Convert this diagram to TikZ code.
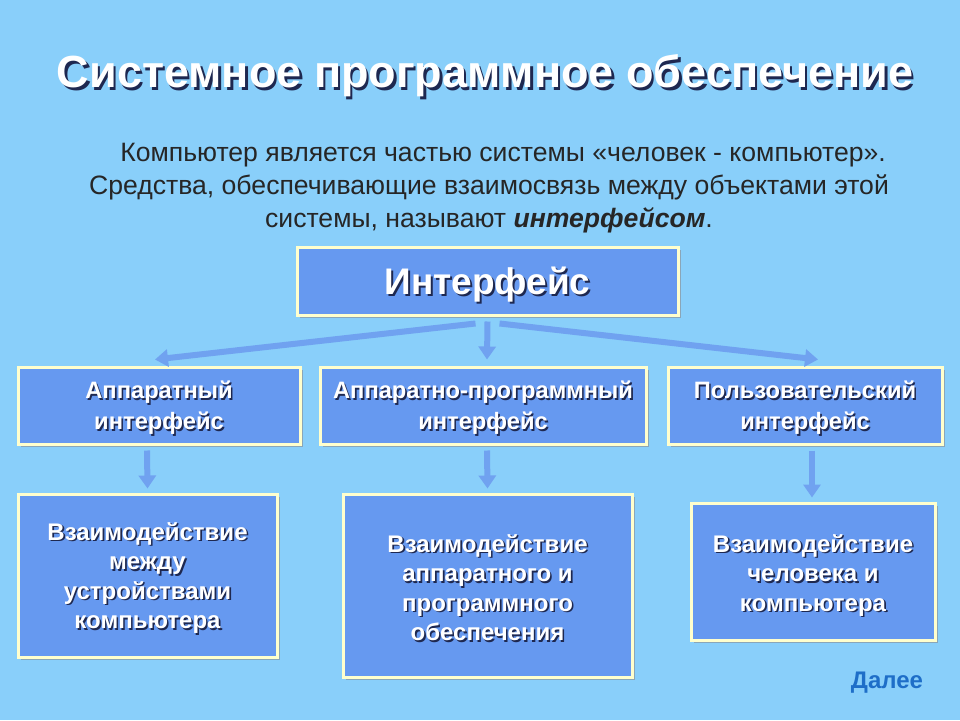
\documentclass[tikz,border=0pt]{standalone}
\usepackage{fontspec}
\setmainfont{Liberation Sans}
\usetikzlibrary{arrows.meta,shadows}
\definecolor{bg}{RGB}{137,207,250}
\definecolor{boxblue}{RGB}{102,153,240}
\definecolor{edge}{RGB}{255,255,205}
\definecolor{arrowblue}{RGB}{112,162,240}
\definecolor{tshadow}{RGB}{30,40,80}
\definecolor{daleecol}{RGB}{30,110,200}
\newcommand\shtxt[2][1.6pt]{\makebox[0pt][l]{\hspace*{#1}\raisebox{-#1}{\color{tshadow}#2}}#2}
\newcommand\lowered[2]{\raisebox{#1}[\height][\depth]{#2}}
\newcommand\shlines[2][-3pt]{\lowered{#1}{\shtxt{\begin{tabular}{@{}c@{}}#2\end{tabular}}}}
\tikzset{
  panel/.style={rectangle, fill=boxblue, draw=edge, line width=3pt, inner sep=0pt,
     drop shadow={shadow xshift=2.5pt, shadow yshift=-2.5pt, fill=black!45, opacity=0.6},
     text=white, font=\bfseries\fontsize{23.7}{31}\selectfont, align=center},
  lower/.style={panel, font=\bfseries\fontsize{24}{29.5}\selectfont},
  flow/.style={draw=arrowblue, line width=6pt, -{Triangle[width=17pt,length=13pt]}, arrowblue}
}
\begin{document}
\begin{tikzpicture}[x=1pt,y=-1pt]
\fill[bg] (0,0) rectangle (960,720);
\useasboundingbox (0,0) rectangle (960,720);

\node[text=white, font=\bfseries\fontsize{45}{50}\selectfont] (title) at (485,77)
  {\shtxt[2.5pt]{Системное программное обеспечение}};

\node[text=black!85, font=\fontsize{26.6}{33}\selectfont, align=center] (intro) at (489,188)
  {\hspace*{28pt}Компьютер является частью системы «человек - компьютер».\\
   Средства, обеспечивающие взаимосвязь между объектами этой\\
   системы, называют \textbf{\textit{интерфейсом}}.};

\node[panel, minimum width=381pt, minimum height=68pt, font=\bfseries\fontsize{37}{40}\selectfont] (iface) at (487.5,281)
  {\lowered{-5pt}{\shtxt[2pt]{Интерфейс}}};

\node[panel, minimum width=282pt, minimum height=77pt] (b1) at (159,405.5)
  {\shlines{Аппаратный\\интерфейс}};
\node[panel, minimum width=326pt, minimum height=77pt] (b2) at (483,405.5)
  {\shlines{Аппаратно-программный\\интерфейс}};
\node[panel, minimum width=274pt, minimum height=77pt] (b3) at (805,405.5)
  {\shlines{Пользовательский\\интерфейс}};

\node[lower, minimum width=259pt, minimum height=163pt] (c1) at (147.5,575.5)
  {\shlines[-4pt]{Взаимодействие\\между\\устройствами\\компьютера}};
\node[lower, minimum width=289pt, minimum height=183pt] (c2) at (487.5,585.5)
  {\shlines[-6pt]{Взаимодействие\\аппаратного и\\программного\\обеспечения}};
\node[lower, minimum width=244pt, minimum height=137pt] (c3) at (813,571.5)
  {\shlines[-5pt]{Взаимодействие\\человека и\\компьютера}};

\draw[flow] ([xshift=-12pt,yshift=-7pt]iface.south) -- ([xshift=-4pt,yshift=6pt]b1.north);
\draw[flow] ([yshift=-5pt]iface.south) -- ([xshift=4pt,yshift=6pt]b2.north);
\draw[flow] ([xshift=12pt,yshift=-7pt]iface.south) -- ([xshift=13pt,yshift=6pt]b3.north);

\draw[flow] ([xshift=-12pt,yshift=-5pt]b1.south) -- ([yshift=4pt]c1.north);
\draw[flow] ([xshift=4pt,yshift=-5pt]b2.south) -- ([yshift=4pt]c2.north);
\draw[flow] ([xshift=7pt,yshift=-5pt]b3.south) -- ([xshift=-1pt,yshift=4pt]c3.north);

\node[text=daleecol, font=\bfseries\fontsize{24}{28}\selectfont] (next) at (887,683) {Далее};
\end{tikzpicture}
\end{document}
